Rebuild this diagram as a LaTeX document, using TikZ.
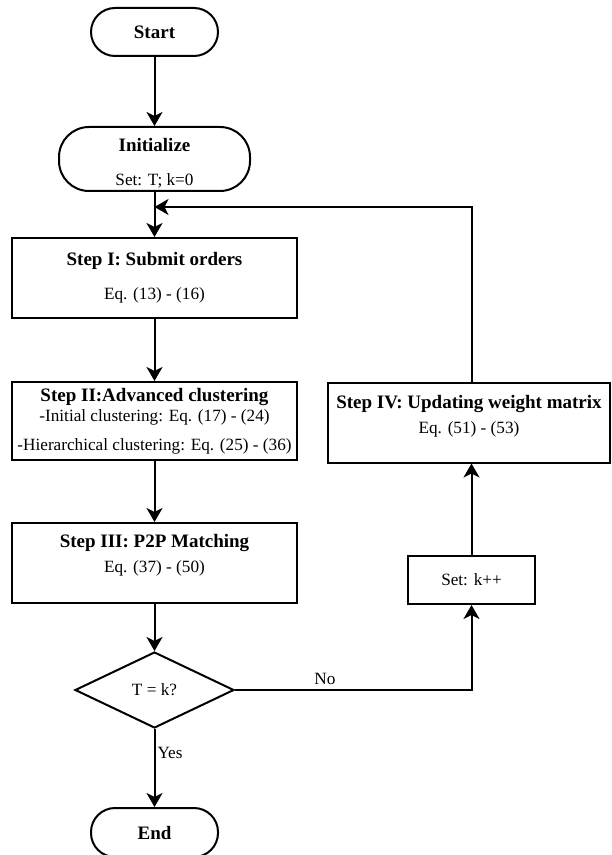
\documentclass[tikz,border=0pt]{standalone}
\usepackage{fontspec}
\setmainfont{Liberation Serif}
\usetikzlibrary{arrows.meta,positioning,shapes.geometric}

\tikzset{
  base/.style={draw,line width=1pt,inner sep=0pt,align=center,
    font=\fontsize{8.6}{10}\selectfont},
  term/.style={base,rounded corners=12pt,minimum width=63.5pt,minimum height=24pt},
  stepbox/.style={base,rectangle,minimum width=142.5pt,minimum height=40pt},
  decision/.style={base,diamond,minimum width=79.5pt,minimum height=38pt},
  arr/.style={line width=1pt,-{Stealth[length=7pt,width=8pt,inset=2pt]}},
}
\newcommand{\ttl}[1]{{\fontsize{9.5}{11}\selectfont\bfseries #1}}

\begin{document}
\begin{tikzpicture}[x=0.5pt,y=-0.5pt]
    \useasboundingbox (0,0) rectangle (611,855);

    % Main column
    \node[term] (start) at (154.5,32) {\ttl{Start}};
    \node[term,minimum width=95.5pt,minimum height=32pt,rounded corners=15pt] (init) at (154.5,159)
        {\mbox{}\\[1pt]\ttl{Initialize}\\[7pt]Set: T; k=0};
    \node[stepbox] (s1) at (154.5,278) {\ttl{Step I: Submit orders}\\[7pt]Eq. (13) - (16)};
    \node[stepbox,minimum height=39pt] (s2) at (154.5,421)
        {\ttl{Step II:Advanced clustering}\\-Initial clustering: Eq. (17) - (24)\\[4.5pt]-Hierarchical clustering: Eq. (25) - (36)};
    \node[stepbox] (s3) at (154.5,563) {\ttl{Step III: P2P Matching}\\[2.5pt]Eq. (37) - (50)\\[0pt]\mbox{}};
    \node[decision] (check) at (154.5,690) {T = k?};
    \node[term,minimum height=24.5pt] (end) at (154.5,832.5) {\ttl{End}};

    % Update branch
    \node[stepbox,minimum width=141pt] (s4) at (469,422.5)
        {\ttl{Step IV: Updating weight matrix}\\[2.5pt]Eq. (51) - (53)\hspace*{18pt}\\[-2pt]\mbox{}};
    \node[base,minimum width=63.5pt,minimum height=24pt] (setk) at (471.5,580) {Set: k++};
    \coordinate (loop) at (154.5,207);

    % Connectors
    \draw[arr] (start) -- (init);
    \draw[arr] (init) -- (s1);
    \draw[arr] (s1) -- (s2);
    \draw[arr] (s2) -- (s3);
    \draw[arr] (s3) -- (check);
    \draw[arr] (check) -- node[pos=0.31,right,inner sep=1pt,font=\fontsize{8.6}{10}\selectfont] {Yes} (end);
    \draw[arr] (check.east) -| node[pos=0.19,above,inner sep=2pt,font=\fontsize{8.6}{10}\selectfont] {No} (setk);
    \draw[arr] (setk) -- (s4.south -| setk);
    \draw[arr] (s4.north -| setk) |- (loop);
\end{tikzpicture}
\end{document}
